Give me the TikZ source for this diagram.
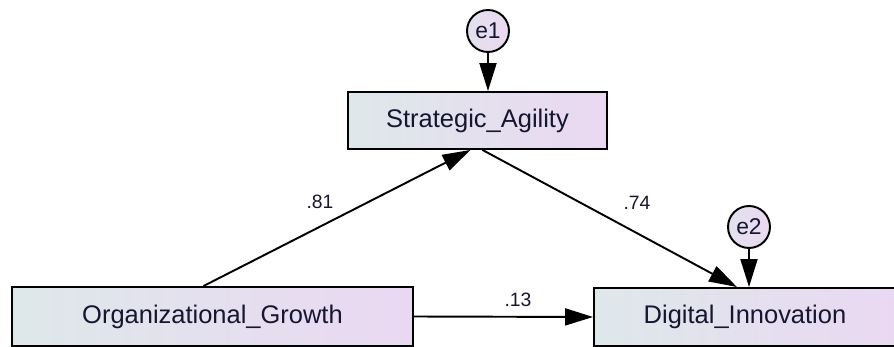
\documentclass[tikz,border=0pt]{standalone}
\usepackage{fontspec}
\setmainfont{Liberation Sans}
\usetikzlibrary{arrows.meta}
\definecolor{boxleft}{RGB}{222,232,234}
\definecolor{boxright}{RGB}{234,216,242}
\definecolor{ink}{RGB}{22,22,48}
\begin{document}
\begin{tikzpicture}[x=0.02cm, y=-0.02cm,
    var/.style={draw, line width=1.1pt, left color=boxleft, right color=boxright,
        text=ink, font=\fontsize{14.5}{16}\selectfont, inner sep=0pt},
    err/.style={draw, circle, line width=1.1pt, left color=boxleft!60!boxright, right color=boxright,
        minimum size=0.84cm, inner sep=0pt, text=ink, font=\fontsize{13}{15}\selectfont},
    path/.style={line width=1.1pt, -{Triangle[length=0.56cm, width=0.34cm]}},
    coef/.style={text=ink, font=\fontsize{11}{13}\selectfont}]
    \useasboundingbox (0,0) rectangle (894,347);
    % observed variables
    \node[var, minimum width=5.18cm, minimum height=1.14cm] (sa) at (477.5,120.5) {Strategic\_Agility};
    \node[var, minimum width=8.02cm, minimum height=1.18cm] (og) at (212.5,316.5) {Organizational\_Growth};
    \node[var, minimum width=6.04cm, minimum height=1.16cm] (di) at (745,317) {Digital\_Innovation};
    % error terms
    \node[err] (e1) at (488,31) {e1};
    \node[err] (e2) at (749,227) {e2};
    % paths
    \draw[path] ([xshift=-0.18cm]og.north) -- ([xshift=-0.14cm]sa.south);
    \draw[path] ([xshift=0.1cm]sa.south) -- ([xshift=-0.16cm]di.north);
    \draw[path] (og.east) -- (di.west);
    \draw[path] (e1.south) -- (e1.south |- sa.north);
    \draw[path] (e2.south) -- (e2.south |- di.north);
    % coefficients
    \node[coef] (c81) at (320,202) {.81};
    \node[coef] (c74) at (637,203) {.74};
    \node[coef] (c13) at (518,300) {.13};
\end{tikzpicture}
\end{document}
